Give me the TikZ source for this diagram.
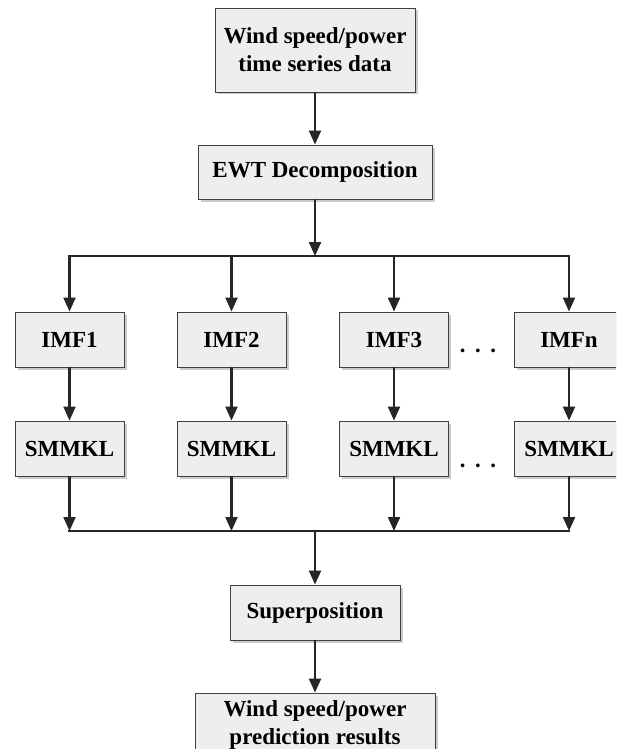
\documentclass[tikz,border=0pt]{standalone}
\usepackage{fontspec}
\setmainfont{Liberation Serif}
\usetikzlibrary{arrows.meta,shadows}
\begin{document}
\begin{tikzpicture}[x=1pt,y=-1pt,
  box/.style={draw=black!75, line width=0.9pt, fill=gray!13,
    drop shadow={shadow xshift=2.5pt, shadow yshift=-2.5pt, fill=gray!40, opacity=1},
    font=\fontsize{23}{28}\selectfont\bfseries, align=center, inner sep=0pt},
  conn/.style={line width=2.2pt, draw=black!85},
  arr/.style={conn, -{Triangle[length=14pt,width=12pt]}},
  dotsl/.style={font=\fontsize{23}{28}\selectfont\bfseries, inner sep=0pt}]
\useasboundingbox (0,0) rectangle (616,749);
\clip (0,0) rectangle (616,749);
\node[box, minimum width=200pt, minimum height=84pt] (top) at (315,50) {Wind speed/power\\time series data};
\node[box, minimum width=234pt, minimum height=54pt] (ewt) at (315,172) {EWT Decomposition};
\foreach \n/\x/\t in {1/69.5/IMF1, 2/231.5/IMF2, 3/394/IMF3, 4/569/IMFn}{
  \node[box, minimum width=109pt, minimum height=55pt] (imf\n) at (\x,339.5) {\t};
  \node[box, minimum width=109pt, minimum height=55pt] (sm\n) at (\x,448.5) {SMMKL};
}
\node[box, minimum width=170pt, minimum height=55pt] (sup) at (315,612.5) {Superposition};
\node[box, minimum width=240pt, minimum height=64pt] (res) at (315,725) {Wind speed/power\\prediction results};
\node[dotsl] (d1) at (478,354) {·\,\,·\,\,·};
\node[dotsl] (d2) at (478,469) {·\,\,·\,\,·};
\coordinate (split) at (315,256);
\coordinate (sL) at (69.5,256);
\coordinate (sR) at (569,256);
\coordinate (merge) at (315,531);
\coordinate (mL) at (69.5,531);
\coordinate (mR) at (569,531);
\draw[arr] (top.south) -- (ewt.north);
\draw[arr] (ewt.south) -- (split);
\draw[conn, line cap=rect] (sL) -- (sR);
\draw[conn, line cap=rect] (mL) -- (mR);
\foreach \n in {1,2,3,4}{
  \draw[arr] (sL -| imf\n.north) -- (imf\n.north);
  \draw[arr] (imf\n.south) -- (sm\n.north);
  \draw[arr] (sm\n.south) -- (mL -| sm\n.south);
}
\draw[arr] (merge) -- (sup.north);
\draw[arr] (sup.south) -- (res.north);
\end{tikzpicture}
\end{document}
